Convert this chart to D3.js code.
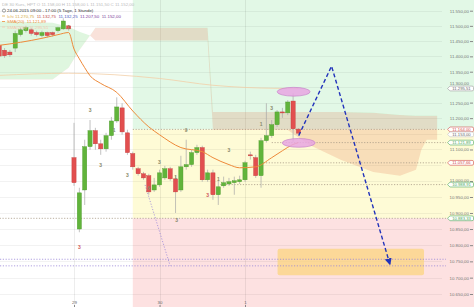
<!DOCTYPE html>
<html>
<head>
<meta charset="utf-8">
<script src="https://cdn.jsdelivr.net/npm/d3@7/dist/d3.min.js"></script>
<style>
  body { margin: 0; background: #fff; }
  svg { display: block; font-family: "Liberation Sans", Arial, sans-serif; }
</style>
</head>
<body>
<div id="chart"></div>
<script>
// ---- data ----
const dayLabels = ['29', '30', '1'];
const daySlots  = [0, 16, 32];
const yTicks    = d3.range(10650, 11551, 50);
const hiddenTicks = [11150, 11050];   // covered by value tags in the original

// hourly candles, slot = position on the time axis
const slots  = [-14, -13, -12, -11, -10, -9, -8, -7, -6, -5, -4, -3, -2, -1,
                0, 1, 2, 3, 4, 5, 6, 7, 8, 9, 10, 11, 12, 13, 14, 15,
                16, 17, 18, 19, 20, 21, 22, 23, 24, 25, 26, 27, 28, 29, 30, 31,
                32, 33, 34, 35, 36, 37, 38, 39, 40, 41, 42];
const opens  = [11436, 11420, 11414, 11427, 11471, 11484, 11487, 11478, 11468, 11478, 11478, 11484, 11490, 11500,
                11074, 10850, 10972, 11109, 11160, 11118, 11102, 11144, 11191, 11233, 11153, 11087, 11039, 11023, 11017, 10972,
                10988, 11010, 11039, 11007, 10972, 11045, 11052, 11090, 11106, 11004, 11026, 10957, 10985, 10991, 10995, 10998,
                11004, 11083, 11074, 11017, 11128, 11144, 11179, 11220, 11217, 11255, 11165];
const highs  = [11446, 11427, 11421, 11484, 11494, 11500, 11494, 11484, 11484, 11481, 11481, 11497, 11525, 11503,
                11185, 10979, 11131, 11194, 11169, 11131, 11153, 11204, 11267, 11248, 11163, 11093, 11045, 11029, 11023, 11010,
                11036, 11048, 11045, 11017, 11080, 11131, 11099, 11115, 11112, 11036, 11036, 11004, 11014, 11010, 11014, 11017,
                11064, 11093, 11083, 11137, 11248, 11194, 11226, 11233, 11258, 11280, 11168];
const lows   = [11395, 11395, 11398, 11414, 11465, 11478, 11468, 11465, 11462, 11462, 11465, 11478, 11487, 11484,
                10985, 10840, 10925, 11099, 11099, 11083, 11093, 11131, 11185, 11147, 11083, 11036, 11017, 11004, 10957, 10966,
                10982, 11004, 11001, 10900, 10966, 11036, 11045, 11083, 10998, 10998, 10941, 10925, 10979, 10985, 10957, 10991,
                10998, 11068, 11010, 10979, 11122, 11137, 11172, 11201, 11210, 11125, 11150];
const closes = [11401, 11402, 11405, 11475, 11487, 11494, 11475, 11471, 11478, 11468, 11471, 11494, 11516, 11490,
                10995, 10963, 11109, 11160, 11118, 11102, 11144, 11191, 11236, 11156, 11090, 11045, 11023, 11010, 10966, 10988,
                11026, 11039, 11007, 10966, 11045, 11052, 11090, 11106, 11004, 11026, 10957, 10982, 10995, 10998, 11001, 11004,
                11058, 11080, 11017, 11128, 11144, 11179, 11220, 11217, 11252, 11166, 11152];

// SMA(20), orange
const smaSlots  = [-14, -10, -6, -3, -1, 0, 1, 2, 3, 5, 8, 11, 14, 16, 20, 24, 26, 29, 31, 34, 37, 39, 41, 42];
const smaValues = [11436, 11446, 11459, 11471, 11478, 11424, 11392, 11363, 11337, 11312, 11283, 11223, 11172,
                   11147, 11106, 11093, 11074, 11052, 11042, 11045, 11074, 11096, 11116, 11121.89];

// faint long average
const slowSlots  = [-14, -1, 16, 26, 38, 42];
const slowValues = [11338, 11345, 11328, 11306, 11296, 11295.51];

// ichimoku cloud (span A / span B)
const cloudSlots = [-16, -4, -1, 1, 3, 4, 25, 26, 40, 44, 50, 56, 61, 64, 65, 66, 68];
const spanA      = [11516, 11510, 11497, 11481, 11468, 11452, 11452, 11162, 11162, 11115, 11067, 11029, 11017, 11036, 11099, 11131, 11131];
const spanB      = [11325, 11325, 11363, 11420, 11468, 11494, 11494, 11220, 11220, 11220, 11220, 11217, 11210, 11208, 11207.5, 11207.5, 11207.5];

// horizontal levels: value, first slot
const levelValues = [11164.00, 11121.89, 11057.66, 10988.91, 10883.33];
const levelStart  = [11, 37, 35.4, 27.4, -16];
const purpleLevels = [10756.5, 10736.2];
const purpleDiag   = [[13.3, 10988], [18, 10736]];

// zones start at slot 11
const zoneStart = 11;

// target box and arrow forecast
const targetBox   = {s0: 38.1, s1: 65.5, v0: 10789, v1: 10707};
const arrowSlots  = [42.05, 48.2, 59.1];
const arrowValues = [11144, 11368, 10742];
const ellipses    = [[41.1, 11285], [42.05, 11121]];

// pattern counters
const annSlots  = [-1, 1, 3, 5, 7.5, 10, 14, 16, 19, 19.2, 21, 25, 27, 29, 35, 37];
const annValues = [11496, 10795, 11226, 11051, 11162, 11017, 10976, 11059, 11013, 10878, 11162, 10956, 11006, 11096, 11181, 11232];
const annTexts  = ['1', '3', '3', '3', '1', '3', '6', '3', '1', '3', '9', '3', '1', '3', '1', '3'];
const annRed    = [false, true, false, false, false, false, false, false, false, false, false, true, false, false, false, false];

// right side value tags
const tagValues = [11295.51, 11164.00, 11153.00, 11121.89, 11057.66, 10988.91, 10883.33];
const tagKinds  = ['gray', 'red', 'plain', 'green', 'red', 'green', 'green'];

// ---- drawing ----
const width = 474, height = 307;

const de = d3.formatLocale({decimal: ',', thousands: '.', grouping: [3], currency: ['', '']});
const fmt = de.format(',.2f');

const x = d3.scaleLinear().domain([0, 32]).range([74, 245]);
const y = d3.scaleLog().domain([10650, 11550]).range([294, 10.7]);

const svg = d3.select('#chart').append('svg')
  .attr('width', width)
  .attr('height', height);
const defs = svg.append('defs');

// zones
const zoneX = x(zoneStart);
const zones = [
  [0, y(levelValues[0]), '#e2f8e6'],
  [y(levelValues[0]), y(levelValues[4]), '#fefbd6'],
  [y(levelValues[4]), height, '#fde1e1']
];
svg.append('g').selectAll('rect').data(zones).join('rect')
  .attr('x', zoneX).attr('width', width - zoneX)
  .attr('y', d => d[0]).attr('height', d => d[1] - d[0])
  .attr('fill', d => d[2]);

// grid
svg.append('g').selectAll('line').data(yTicks).join('line')
  .attr('x1', 0).attr('x2', 442)
  .attr('y1', d => Math.round(y(d)) + 0.5).attr('y2', d => Math.round(y(d)) + 0.5)
  .attr('stroke', 'rgba(0,0,0,0.05)');
svg.append('g').selectAll('line').data(daySlots).join('line')
  .attr('x1', d => Math.round(x(d)) + 0.5).attr('x2', d => Math.round(x(d)) + 0.5)
  .attr('y1', 0).attr('y2', height)
  .attr('stroke', 'rgba(0,0,0,0.07)');

// target box
svg.append('rect')
  .attr('x', x(targetBox.s0)).attr('y', y(targetBox.v0))
  .attr('width', x(targetBox.s1) - x(targetBox.s0))
  .attr('height', y(targetBox.v1) - y(targetBox.v0))
  .attr('rx', 2)
  .attr('fill', '#fbd47f').attr('opacity', 0.75);

// ichimoku cloud
const cloud = cloudSlots.map((s, i) => ({s, a: spanA[i], b: spanB[i]}));
defs.append('clipPath').attr('id', 'aboveB').append('path')
  .attr('d', d3.area().x(d => x(d.s)).y0(d => y(d.b)).y1(0)(cloud));
defs.append('clipPath').attr('id', 'belowB').append('path')
  .attr('d', d3.area().x(d => x(d.s)).y0(d => y(d.b)).y1(height)(cloud));
const cloudArea = d3.area().x(d => x(d.s)).y0(d => y(d.a)).y1(d => y(d.b));
svg.append('path').datum(cloud).attr('d', cloudArea)
  .attr('clip-path', 'url(#aboveB)').attr('fill', 'rgba(110,215,110,0.22)');
svg.append('path').datum(cloud).attr('d', cloudArea)
  .attr('clip-path', 'url(#belowB)').attr('fill', 'rgba(225,110,70,0.2)');

// levels
const dotted = (g, x1, v1, x2, v2, col) => g.append('line')
  .attr('x1', x1).attr('y1', y(v1)).attr('x2', x2).attr('y2', y(v2))
  .attr('stroke', col).attr('stroke-width', 0.8)
  .attr('stroke-dasharray', '1.2,1.6');
levelValues.forEach((v, i) => dotted(svg, x(levelStart[i]), v, 446, v, '#a89a86'));
purpleLevels.forEach(v => dotted(svg, 0, v, 446, v, '#9a86d8'));
dotted(svg, x(purpleDiag[0][0]), purpleDiag[0][1], x(purpleDiag[1][0]), purpleDiag[1][1], '#9a86d8');

// slow average
svg.append('path')
  .datum(slowSlots.map((s, i) => [s, slowValues[i]]))
  .attr('d', d3.line().curve(d3.curveMonotoneX).x(d => x(d[0])).y(d => y(d[1])))
  .attr('fill', 'none').attr('stroke', '#f2cfa8').attr('stroke-width', 0.8);

// candles
const candles = slots.map((s, i) => ({s, o: opens[i], h: highs[i], l: lows[i], c: closes[i]}));
const cg = svg.append('g');
cg.selectAll('line').data(candles).join('line')
  .attr('x1', d => x(d.s)).attr('x2', d => x(d.s))
  .attr('y1', d => y(d.h)).attr('y2', d => y(d.l))
  .attr('stroke', '#a8a8a8').attr('stroke-width', 0.7);
cg.selectAll('rect').data(candles).join('rect')
  .attr('x', d => x(d.s) - 2.1)
  .attr('width', 4.2)
  .attr('y', d => y(Math.max(d.o, d.c)))
  .attr('height', d => Math.max(1, Math.abs(y(d.o) - y(d.c))))
  .attr('fill', d => d.c >= d.o ? '#61b43b' : '#e24f4f')
  .attr('stroke', d => d.c >= d.o ? '#4d9a2c' : '#c23a3a')
  .attr('stroke-width', 0.4);

// SMA(20)
svg.append('path')
  .datum(smaSlots.map((s, i) => [s, smaValues[i]]))
  .attr('d', d3.line().curve(d3.curveMonotoneX).x(d => x(d[0])).y(d => y(d[1])))
  .attr('fill', 'none').attr('stroke', '#ee8a3a').attr('stroke-width', 1);

// pattern counters
svg.append('g').selectAll('text').data(annSlots).join('text')
  .attr('x', d => x(d)).attr('y', (d, i) => y(annValues[i]))
  .attr('text-anchor', 'middle').attr('dy', '0.35em')
  .attr('font-size', 5).attr('font-weight', 'bold')
  .attr('fill', (d, i) => annRed[i] ? '#d05a5a' : '#8a8a6a')
  .text((d, i) => annTexts[i]);

// ellipses
svg.append('g').selectAll('ellipse').data(ellipses).join('ellipse')
  .attr('cx', d => x(d[0])).attr('cy', d => y(d[1]))
  .attr('rx', 16.5).attr('ry', 4.4)
  .attr('fill', '#e8a6e2').attr('fill-opacity', 0.85)
  .attr('stroke', '#c27cc6').attr('stroke-width', 0.6);

// forecast arrow
defs.append('marker').attr('id', 'head')
  .attr('viewBox', '0 0 10 10').attr('refX', 8).attr('refY', 5)
  .attr('markerWidth', 5).attr('markerHeight', 5).attr('orient', 'auto')
  .append('path').attr('d', 'M0,0L10,5L0,10z').attr('fill', '#2233bb');
svg.append('path')
  .datum(arrowSlots.map((s, i) => [s, arrowValues[i]]))
  .attr('d', d3.line().x(d => x(d[0])).y(d => y(d[1])))
  .attr('fill', 'none').attr('stroke', '#2233bb').attr('stroke-width', 1.4)
  .attr('stroke-dasharray', '4,2.5')
  .attr('marker-end', 'url(#head)');

// right axis; labels pushed clear of the value tags
const tagYs = tagValues.map(v => y(v));
const yAxis = d3.axisLeft(y)
  .tickValues(yTicks.filter(v => !hiddenTicks.includes(v)))
  .tickFormat(fmt).tickSize(3).tickPadding(1);
const ag = svg.append('g').attr('transform', `translate(${width - 1},0)`).call(yAxis);
ag.select('.domain').remove();
ag.selectAll('line').attr('stroke', '#888');
ag.selectAll('text')
  .attr('font-size', 4.4).attr('fill', '#777')
  .attr('font-family', 'Liberation Sans, Arial, sans-serif')
  .attr('y', d => {
    const ty = y(d);
    const near = tagYs.find(t => Math.abs(t - ty) < 5);
    if (near === undefined) return 0;
    return near >= ty ? near - 5 - ty : near + 5 - ty;
  });

// value tags (last price tag sits just under the level tag above it)
const tagColor = {red: '#d24a4a', green: '#4aa85a', gray: '#9a9a9a', plain: '#c4c4c4'};
const tg = svg.append('g');
tagValues.forEach((v, i) => {
  let ty = y(v);
  if (tagKinds[i] === 'plain') ty = Math.max(ty, y(tagValues[i - 1]) + 5);
  const col = tagColor[tagKinds[i]];
  const h = 2.4;
  tg.append('path')
    .attr('d', `M447.5,${ty}L450,${ty - h}L472,${ty - h}Q473.5,${ty - h} 473.5,${ty - h + 1.2}L473.5,${ty + h - 1.2}Q473.5,${ty + h} 472,${ty + h}L450,${ty + h}Z`)
    .attr('fill', '#fff').attr('stroke', col).attr('stroke-width', 0.6);
  tg.append('text')
    .attr('x', 461.5).attr('y', ty).attr('dy', '0.35em')
    .attr('text-anchor', 'middle').attr('font-size', 4.2)
    .attr('fill', tagKinds[i] === 'plain' || tagKinds[i] === 'gray' ? '#666' : col)
    .text(fmt(v));
});

// bottom axis
const xAxis = d3.axisTop(x).tickValues(daySlots).tickFormat((d, i) => dayLabels[i]).tickSize(2).tickPadding(1);
const xg = svg.append('g').attr('transform', `translate(0,${height})`).call(xAxis);
xg.select('.domain').remove();
xg.selectAll('line').attr('stroke', '#888');
xg.selectAll('text').attr('font-size', 4.4).attr('fill', '#666').attr('font-family', 'Liberation Sans, Arial, sans-serif');

// legend
const lg = svg.append('g').attr('font-size', 4.4);
lg.append('text').attr('x', 2).attr('y', 6).attr('fill', '#bbb')
  .text('DE 30 Kurs, HPT   O 11.158,00   H 11.158,00   L 11.151,50   C 11.152,00');
lg.append('circle').attr('cx', 4).attr('cy', 10.6).attr('r', 1.6)
  .attr('fill', 'none').attr('stroke', '#444').attr('stroke-width', 0.5);
lg.append('text').attr('x', 7).attr('y', 12).attr('fill', '#333')
  .text('24.06.2015 09:00 - 17:00 (5 Tage, 1 Stunde)');
const legendRows = [
  {y: 17.5, parts: [['Ichi', '#e0b050'], [' 11.270,75', '#d4aa40'], ['  11.132,75', '#c04a4a'], ['  11.132,25', '#4a58c0'], ['  11.207,50', '#7a3a9a'], ['  11.152,00', '#7a3a9a']]},
  {y: 23, parts: [['SMA(20)', '#ee8a3a'], ['  11.121,89', '#ee8a3a']]},
  {y: 28.5, parts: [['SMA(200)', '#f5c8b0'], ['  11.295,51', '#f5c8b0']]}
];
legendRows.forEach(r => {
  lg.append('line').attr('x1', 2).attr('x2', 5).attr('y1', r.y - 1.5).attr('y2', r.y - 1.5)
    .attr('stroke', r.parts[0][1]).attr('stroke-width', 0.8);
  const t = lg.append('text').attr('x', 7).attr('y', r.y);
  r.parts.forEach(p => t.append('tspan').attr('fill', p[1]).attr('xml:space', 'preserve').text(p[0]));
});
</script>
</body>
</html>
